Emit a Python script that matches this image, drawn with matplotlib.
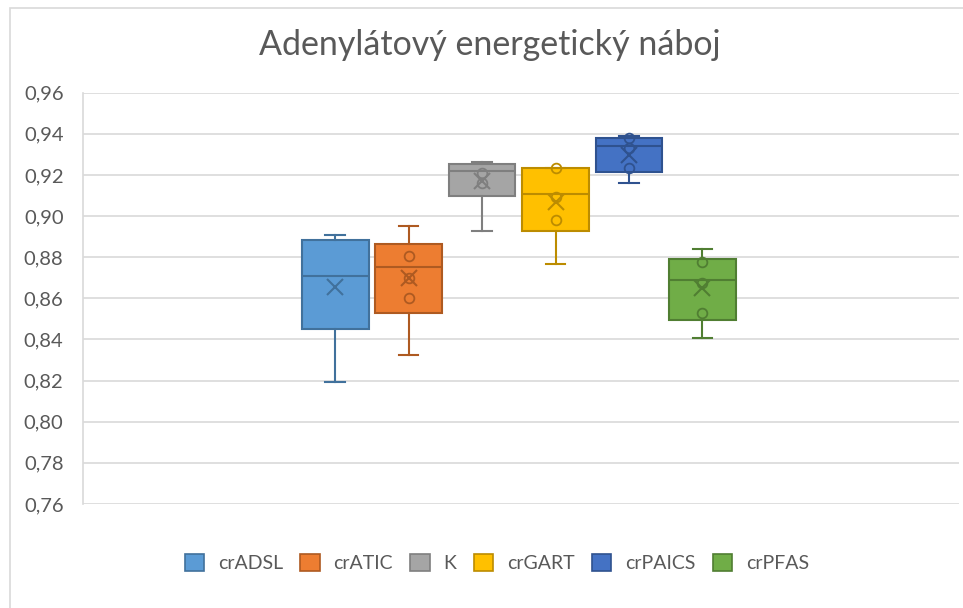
import matplotlib

matplotlib.use("Agg")
import matplotlib.pyplot as plt
from matplotlib.patches import Patch, Rectangle

plt.rcParams["font.family"] = ["Lato", "DejaVu Sans"]

# Box statistics
series = ["crADSL", "crATIC", "K", "crGART", "crPAICS", "crPFAS"]
whislo = [0.8194, 0.8324, 0.8927, 0.8768, 0.9162, 0.8405]
q1 = [0.8453, 0.8531, 0.9099, 0.8928, 0.9216, 0.8494]
med = [0.8710, 0.8753, 0.9220, 0.9106, 0.9341, 0.8687]
q3 = [0.8883, 0.8864, 0.9252, 0.9232, 0.9378, 0.8791]
whishi = [0.8908, 0.8951, 0.9263, 0.9234, 0.9391, 0.8838]
means = [0.8656, 0.8700, 0.9172, 0.9070, 0.9297, 0.8648]
inner_points = [
    [],
    [0.8807, 0.8700, 0.8602],
    [0.9208, 0.9159],
    [0.9234, 0.9095, 0.8980],
    [0.9378, 0.9329, 0.9232],
    [0.8778, 0.8673, 0.8527],
]
yticks = [0.76, 0.78, 0.80, 0.82, 0.84, 0.86, 0.88, 0.90, 0.92, 0.94, 0.96]

fill_colors = ["#5B9BD5", "#ED7D31", "#A5A5A5", "#FFC000", "#4472C4", "#70AD47"]
edge_colors = ["#41719C", "#AE5A21", "#7F7F7F", "#BC8C00", "#2F528F", "#507E32"]
TEXT = "#595959"
GRID = "#D9D9D9"

fig = plt.figure(figsize=(9.63, 6.08), dpi=100)
ax = fig.add_axes([0.0862, 0.1711, 0.9096, 0.6764])

# chart border (cropped on the right/bottom in the original)
fig.patches.append(Rectangle((10 / 963, -0.1), 1.2, 1.1 - 8 / 608,
                             transform=fig.transFigure, fill=False,
                             edgecolor=GRID, lw=1.2))

stats = []
for i, name in enumerate(series):
    stats.append({"label": name, "whislo": whislo[i], "q1": q1[i], "med": med[i],
                  "q3": q3[i], "whishi": whishi[i], "mean": means[i], "fliers": []})

positions = list(range(len(series)))
for i, st in enumerate(stats):
    ec = edge_colors[i]
    ax.bxp([st], positions=[positions[i]], widths=0.91, patch_artist=True,
           showmeans=True, meanline=False, showfliers=False, capwidths=0.27,
           boxprops=dict(facecolor=fill_colors[i], edgecolor=ec, lw=1.5),
           medianprops=dict(color=ec, lw=1.5),
           whiskerprops=dict(color=ec, lw=1.5),
           capprops=dict(color=ec, lw=1.5),
           meanprops=dict(marker="x", markeredgecolor=ec, markersize=11,
                          markeredgewidth=1.5))
    pts = inner_points[i]
    ax.plot([positions[i]] * len(pts), pts, "o", mfc="none", mec=ec,
            ms=7, mew=1.3, zorder=4)

ax.set_xlim(-3.43, 8.49)
ax.set_ylim(0.76, 0.96)
ax.set_yticks(yticks)
ax.set_yticklabels([f"{t:.2f}".replace(".", ",") for t in yticks],
                   color=TEXT, fontsize=14.5)
ax.tick_params(axis="y", length=0, pad=14)
ax.set_xticks([])
ax.grid(axis="y", color=GRID, lw=1.2)
ax.set_axisbelow(True)
for side in ("top", "right", "bottom"):
    ax.spines[side].set_visible(False)
ax.spines["left"].set_color(GRID)
ax.spines["left"].set_linewidth(1.2)

fig.text(0.509, 0.926, "Adenylátový energetický náboj", ha="center",
         va="center", fontsize=24.5, color=TEXT)

handles = [Patch(facecolor=fill_colors[i], edgecolor=edge_colors[i], lw=1.2)
           for i in range(len(series))]
fig.legend(handles, series, loc="center", bbox_to_anchor=(0.516, 0.074),
           ncol=6, frameon=False, fontsize=14, labelcolor=TEXT,
           handlelength=1.0, handleheight=1.0, handletextpad=0.7,
           columnspacing=0.9)

fig.savefig("out.png", dpi=100)
